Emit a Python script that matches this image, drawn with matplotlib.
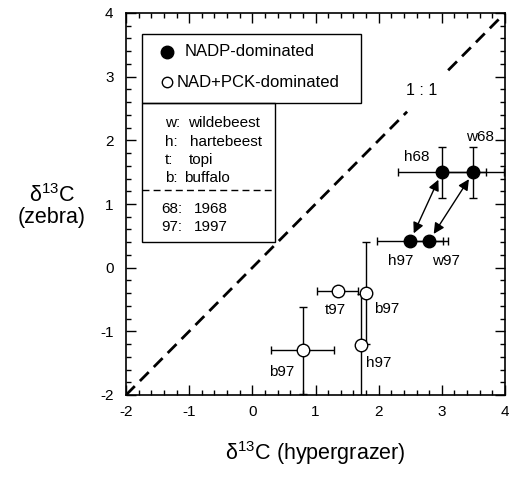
import matplotlib.pyplot as plt
from matplotlib.patches import Rectangle
from matplotlib.ticker import MultipleLocator

plt.rcParams['font.family'] = ['Liberation Sans', 'DejaVu Sans']
plt.rcParams['mathtext.default'] = 'regular'
plt.rcParams['axes.unicode_minus'] = False

# NADP-dominated (filled)
nadp_x = [3.0, 3.5, 2.5, 2.8]
nadp_y = [1.5, 1.5, 0.42, 0.42]
nadp_xerr = [0.7, 0.48, 0.52, 0.3]
nadp_yerr = [0.4, 0.4, 0.0, 0.0]
nadp_labels = ['h68', 'w68', 'h97', 'w97']
nadp_label_xy = [(2.61, 1.74), (3.61, 2.05), (2.35, 0.10), (3.06, 0.10)]

# NAD+PCK-dominated (open)
nad_x = [1.35, 1.8, 1.72, 0.8]
nad_y = [-0.37, -0.4, -1.22, -1.3]
nad_xerr = [0.33, 0.07, 0.07, 0.5]
nad_yerr = [0.0, 0.8, 0.8, 0.68]
nad_labels = ['t97', 'b97', 'h97', 'b97']
nad_label_xy = [(1.32, -0.66), (2.13, -0.65), (2.0, -1.5), (0.46, -1.64)]

# 1968 -> 1997 arrows (index pairs in nadp lists)
arrow_pairs = [(0, 2), (1, 3)]

# 1:1 line, broken around its label
one_to_one = [(-2, 2.45), (3.1, 4)]

fig = plt.figure(figsize=(5.09, 4.79), dpi=100)
ax = fig.add_axes([126 / 509, 1 - 395 / 479, 379 / 509, 382 / 479])
ax.set_xlim(-2, 4)
ax.set_ylim(-2, 4)

for a, b in one_to_one:
    ax.plot([a, b], [a, b], color='black', lw=2, ls=(0, (4.5, 2.6)))
ax.text(2.68, 2.79, '1 : 1', ha='center', va='center', fontsize=11.5)

ax.errorbar(nadp_x, nadp_y, xerr=nadp_xerr, yerr=nadp_yerr, fmt='o', color='black',
            mfc='black', mec='black', ms=9, elinewidth=1, capsize=3, capthick=1, zorder=3)
ax.errorbar(nad_x, nad_y, xerr=nad_xerr, yerr=nad_yerr, fmt='o', color='black',
            mfc='white', mec='black', ms=9, mew=1, elinewidth=1, capsize=3, capthick=1, zorder=3)

for i, j in arrow_pairs:
    ax.annotate('', xy=(nadp_x[j], nadp_y[j]), xytext=(nadp_x[i], nadp_y[i]),
                arrowprops=dict(arrowstyle='<|-|>', color='black', lw=1,
                                mutation_scale=16, shrinkA=6, shrinkB=6), zorder=4)

for lab, (tx, ty) in zip(nadp_labels + nad_labels, nadp_label_xy + nad_label_xy):
    ax.text(tx, ty, lab, ha='center', va='center', fontsize=11)

# legend boxes
ax.add_patch(Rectangle((0.042, 0.764), 0.619 - 0.042, 0.945 - 0.764, transform=ax.transAxes,
                       fill=False, lw=1, ec='black'))
ax.add_patch(Rectangle((0.042, 0.401), 0.394 - 0.042, 0.764 - 0.401, transform=ax.transAxes,
                       fill=False, lw=1, ec='black'))
ax.plot([0.042, 0.394], [0.537, 0.537], transform=ax.transAxes, color='black', lw=1,
        ls=(0, (5, 3)))
ax.plot([0.108], [0.898], 'o', color='black', ms=9, transform=ax.transAxes)
ax.text(0.155, 0.898, 'NADP-dominated', transform=ax.transAxes, va='center', fontsize=12)
ax.plot([0.108], [0.819], 'o', mfc='white', mec='black', ms=7.5, transform=ax.transAxes)
ax.text(0.133, 0.819, 'NAD+PCK-dominated', transform=ax.transAxes, va='center', fontsize=12)

key_codes = ['w:', 'h:', 't:', 'b:', '68:', '97:']
key_names = ['wildebeest', 'hartebeest', 'topi', 'buffalo', '1968', '1997']
key_y = [0.712, 0.662, 0.615, 0.568, 0.487, 0.440]
key_x0 = [0.102, 0.102, 0.102, 0.102, 0.092, 0.092]
key_x1 = [0.163, 0.168, 0.166, 0.153, 0.180, 0.180]
for c, n, y, x0, x1 in zip(key_codes, key_names, key_y, key_x0, key_x1):
    ax.text(x0, y, c, transform=ax.transAxes, va='center', fontsize=11)
    ax.text(x1, y, n, transform=ax.transAxes, va='center', fontsize=11)

ax.xaxis.set_major_locator(MultipleLocator(1))
ax.yaxis.set_major_locator(MultipleLocator(1))
ax.xaxis.set_minor_locator(MultipleLocator(0.2))
ax.yaxis.set_minor_locator(MultipleLocator(0.2))
ax.tick_params(which='both', direction='in', top=True, right=True, labelsize=11)
ax.tick_params(which='major', length=7, width=1)
ax.tick_params(which='minor', length=3.5, width=1)
ax.tick_params(axis='x', pad=7)
ax.tick_params(axis='y', pad=9)
for s in ax.spines.values():
    s.set_linewidth(1.2)

ax.set_xlabel('δ$^{13}$C (hypergrazer)', fontsize=15.5, labelpad=15)
fig.text(52 / 509, 1 - 206 / 479, 'δ$^{13}$C\n(zebra)', ha='center', va='center',
         fontsize=15.5, linespacing=1.05)

fig.savefig('out.png', dpi=100)
